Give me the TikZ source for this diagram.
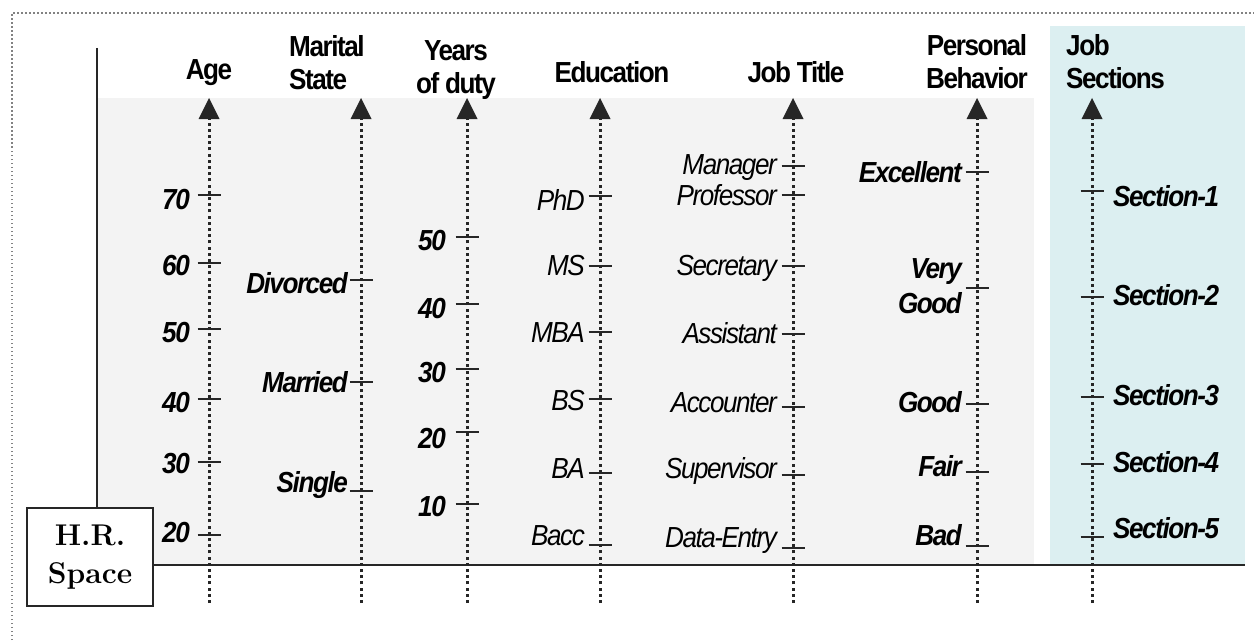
\documentclass[tikz,border=0pt]{standalone}
\usepackage{fontspec}
\newfontfamily\labfont[LetterSpace=-5,FakeStretch=0.9]{Liberation Sans}
\usetikzlibrary{arrows.meta}
\definecolor{bggray}{RGB}{243,243,243}
\definecolor{bgcyan}{RGB}{220,239,241}
\definecolor{ink}{RGB}{38,38,38}
\definecolor{framegray}{RGB}{130,130,130}
\begin{document}
\begin{tikzpicture}[x=1pt,y=-1pt,
  frame/.style={draw=framegray, line width=1.5pt, dash pattern=on 1.5pt off 2.5pt},
  axisline/.style={draw=ink, line width=2.5pt},
  dotaxis/.style={draw=ink, line width=3pt, dash pattern=on 3pt off 3.2pt, -{Triangle[width=21pt,length=21pt,line width=0pt]}},
  tickmark/.style={draw=ink, line width=2.4pt},
  hdr/.style={font=\labfont\fontsize{29}{33}\selectfont\bfseries, inner sep=0pt},
  lblb/.style={font=\labfont\fontsize{29}{33}\selectfont\bfseries\itshape, inner sep=0pt, text height=20.8pt, text depth=0pt},
  lbln/.style={font=\labfont\fontsize{29}{33}\selectfont\itshape, inner sep=0pt, text height=20.8pt, text depth=0pt},
  hrbox/.style={draw=ink, line width=2pt, fill=white, minimum width=126pt, minimum height=98pt, inner sep=0pt, align=center, font=\fontsize{30}{38}\selectfont\bfseries}
]
\useasboundingbox (0,0) rectangle (1254,642);
% backgrounds
\fill[bggray] (97,98) rectangle (1034,565);
\fill[bgcyan] (1050,26) rectangle (1245,565);
% outer dotted frame
\coordinate (fa) at (12,660);
\coordinate (fb) at (12,13);
\coordinate (fc) at (1270,13);
\draw[frame] (fa) -- (fb) -- (fc);
% headers
\node[hdr, anchor=north] (hage) at (209,59) {Age};
\node[hdr, anchor=north west, align=left] (hmar) at (289,35) {Marital\\State};
\node[hdr, anchor=north, align=center] (hyears) at (456,40) {Years\\of duty};
\node[hdr, anchor=north] (hedu) at (612,61) {Education};
\node[hdr, anchor=north] (hjob) at (796,61) {Job Title};
\node[hdr, anchor=north, align=center] (hpers) at (977,34) {Personal\\Behavior};
\node[hdr, anchor=north west, align=left] (hsec) at (1066,34) {Job\\Sections};
% H.R. box and axes
\node[hrbox] (hr) at (90,557) {H.R.\\Space};
\coordinate (vtop) at (97,48);
\coordinate (hend) at (1245,565);
\draw[axisline] (vtop) -- (vtop |- hr.north);
\draw[axisline] (hr.east |- hend) -- (hend);
% dotted axes
\foreach \nm/\ax in {age/209, mar/361, yrs/467, edu/600, job/793, per/977, sec/1092} {
  \coordinate (\nm B) at (\ax,603);
  \coordinate (\nm T) at (\ax,98);
  \draw[dotaxis] (\nm B) -- (\nm T);
}
% Age
\foreach \t/\ty/\cy [count=\i] in {70/195/199, 60/263/265, 50/329/332, 40/399/402, 30/462/463, 20/535/532} {
  \draw[tickmark] (209-11.5,\ty) -- (209+11.5,\ty);
  \node[lblb, anchor=east] (age\i) at (190,\cy) {\t};
}
% Marital state
\foreach \t/\ty/\cy [count=\i] in {Divorced/280/283, Married/382/382, Single/491/482} {
  \draw[tickmark] (361-11.5,\ty) -- (361+11.5,\ty);
  \node[lblb, anchor=east] (mar\i) at (348,\cy) {\t};
}
% Years of duty
\foreach \t/\ty/\cy [count=\i] in {50/237/240, 40/304/308, 30/369/372, 20/432/438, 10/504/506} {
  \draw[tickmark] (467-11.5,\ty) -- (467+11.5,\ty);
  \node[lblb, anchor=east] (yrs\i) at (446,\cy) {\t};
}
% Education
\foreach \t/\ty/\cy [count=\i] in {PhD/196/200, MS/266/265, MBA/332/332, BS/399/400, BA/473/468, Bacc/545/535} {
  \draw[tickmark] (600-11.5,\ty) -- (600+11.5,\ty);
  \node[lbln, anchor=east] (edu\i) at (585,\cy) {\t};
}
% Job title
\foreach \t/\ty/\cy [count=\i] in {Manager/166/164.5, Professor/195/195, Secretary/266/265, Assistant/334/333, Accounter/407/402, Supervisor/475/468, Data-Entry/548/537} {
  \draw[tickmark] (793-11.5,\ty) -- (793+11.5,\ty);
  \node[lbln, anchor=east] (job\i) at (777,\cy) {\t};
}
% Personal behavior
\foreach \t/\ty/\cy [count=\i] in {Excellent/172/172, Good/404/402, Fair/472/466, Bad/546/535} {
  \draw[tickmark] (977-11.5,\ty) -- (977+11.5,\ty);
  \node[lblb, anchor=east] (per\i) at (962,\cy) {\t};
}
\draw[tickmark] (977-11.5,288) -- (977+11.5,288);
\node[font=\labfont\fontsize{29}{35}\selectfont\bfseries\itshape, inner sep=0pt, align=right, anchor=north east] (pervg) at (962,258) {Very\\Good};
% Job sections
\foreach \t/\ty/\cy [count=\i] in {Section-1/191/196, Section-2/297/295, Section-3/397/395, Section-4/464/462, Section-5/537/528} {
  \draw[tickmark] (1092-11.5,\ty) -- (1092+11.5,\ty);
  \node[lblb, anchor=west] (sec\i) at (1113,\cy) {\t};
}
\end{tikzpicture}
\end{document}
